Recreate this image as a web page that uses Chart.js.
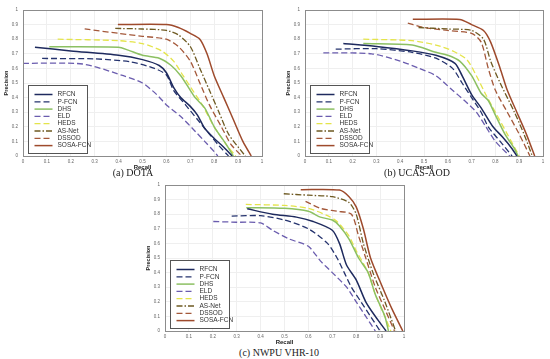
<!DOCTYPE html>
<html>
<head>
<meta charset="utf-8">
<script src="https://cdn.jsdelivr.net/npm/chart.js@4.4.1/dist/chart.umd.min.js"></script>
<style>
  body { margin: 0; background: #fff; width: 550px; height: 359px; position: relative; overflow: hidden; }
  canvas { position: absolute; }
  .cap { position: absolute; font-family: "Liberation Serif", serif; font-size: 10px; color: #222; white-space: nowrap; transform: translateX(-50%); }
</style>
</head>
<body>
<canvas id="chartA" width="268" height="172" style="left:0;top:0"></canvas>
<canvas id="chartB" width="267" height="172" style="left:282px;top:0"></canvas>
<canvas id="chartC" width="268" height="172" style="left:142px;top:175px"></canvas>
<div class="cap" style="left:133px;top:167px">(a) DOTA</div>
<div class="cap" style="left:417px;top:167px">(b) UCAS-AOD</div>
<div class="cap" style="left:279px;top:347px">(c) NWPU VHR-10</div>
<script>
const methods = ["RFCN", "P-FCN", "DHS", "ELD", "HEDS", "AS-Net", "DSSOD", "SOSA-FCN"];
const tickLabels = ["0", "0.1", "0.2", "0.3", "0.4", "0.5", "0.6", "0.7", "0.8", "0.9", "1"];

// (a) DOTA  [recall, precision]
const dotaRFCN = [[0.05,0.745],[0.2,0.72],[0.4,0.69],[0.5,0.66],[0.57,0.62],[0.6,0.57],[0.63,0.47],[0.66,0.40],[0.7,0.34],[0.73,0.28],[0.76,0.19],[0.8,0.12],[0.84,0.06],[0.875,0]];
const dotaPFCN = [[0.08,0.668],[0.3,0.665],[0.45,0.645],[0.55,0.60],[0.6,0.555],[0.63,0.45],[0.68,0.35],[0.73,0.25],[0.78,0.15],[0.82,0.07],[0.86,0]];
const dotaDHS = [[0.11,0.748],[0.4,0.745],[0.44,0.725],[0.5,0.69],[0.57,0.67],[0.62,0.62],[0.66,0.55],[0.7,0.45],[0.72,0.40],[0.76,0.33],[0.8,0.2],[0.85,0.08],[0.88,0]];
const dotaELD = [[0.0,0.635],[0.25,0.63],[0.42,0.55],[0.5,0.50],[0.56,0.42],[0.6,0.35],[0.66,0.27],[0.72,0.17],[0.76,0.10],[0.8,0.03],[0.815,0]];
const dotaHEDS = [[0.145,0.80],[0.4,0.79],[0.5,0.77],[0.58,0.72],[0.63,0.65],[0.67,0.55],[0.71,0.45],[0.75,0.35],[0.8,0.2],[0.85,0.08],[0.89,0]];
const dotaASNet = [[0.386,0.874],[0.5,0.87],[0.6,0.86],[0.65,0.83],[0.7,0.75],[0.74,0.60],[0.78,0.45],[0.82,0.30],[0.86,0.15],[0.93,0]];
const dotaDSSOD = [[0.258,0.87],[0.4,0.84],[0.5,0.82],[0.6,0.80],[0.65,0.75],[0.7,0.65],[0.74,0.50],[0.78,0.35],[0.83,0.20],[0.87,0.08],[0.915,0]];
const dotaSOSA = [[0.397,0.90],[0.6,0.90],[0.65,0.88],[0.7,0.84],[0.74,0.80],[0.77,0.70],[0.8,0.55],[0.84,0.40],[0.88,0.25],[0.92,0.10],[0.955,0]];

// (b) UCAS-AOD
const ucasRFCN = [[0.161,0.771],[0.3,0.75],[0.45,0.72],[0.55,0.69],[0.63,0.635],[0.66,0.55],[0.7,0.42],[0.74,0.33],[0.79,0.20],[0.83,0.13],[0.87,0.05],[0.89,0]];
const ucasPFCN = [[0.129,0.732],[0.3,0.735],[0.45,0.71],[0.55,0.67],[0.62,0.60],[0.66,0.50],[0.7,0.40],[0.74,0.30],[0.77,0.20],[0.82,0.10],[0.87,0]];
const ucasDHS = [[0.245,0.77],[0.45,0.76],[0.55,0.71],[0.6,0.69],[0.65,0.65],[0.7,0.55],[0.74,0.43],[0.77,0.38],[0.8,0.28],[0.84,0.15],[0.88,0.05],[0.895,0]];
const ucasELD = [[0.077,0.707],[0.28,0.70],[0.4,0.65],[0.48,0.60],[0.55,0.55],[0.62,0.45],[0.67,0.38],[0.72,0.30],[0.76,0.20],[0.8,0.10],[0.86,0]];
const ucasHEDS = [[0.245,0.80],[0.45,0.79],[0.55,0.76],[0.62,0.72],[0.68,0.66],[0.72,0.55],[0.76,0.42],[0.8,0.30],[0.85,0.15],[0.9,0]];
const ucasASNet = [[0.477,0.88],[0.6,0.87],[0.7,0.86],[0.75,0.80],[0.78,0.65],[0.82,0.50],[0.88,0.30],[0.92,0.15],[0.955,0]];
const ucasDSSOD = [[0.432,0.91],[0.5,0.88],[0.6,0.86],[0.7,0.84],[0.74,0.78],[0.77,0.60],[0.8,0.45],[0.85,0.30],[0.9,0.15],[0.945,0]];
const ucasSOSA = [[0.453,0.936],[0.65,0.935],[0.7,0.90],[0.75,0.86],[0.78,0.78],[0.82,0.60],[0.85,0.45],[0.89,0.30],[0.93,0.15],[0.965,0]];

// (c) NWPU VHR-10
const nwpuRFCN = [[0.344,0.837],[0.45,0.80],[0.55,0.78],[0.62,0.75],[0.7,0.69],[0.73,0.60],[0.76,0.45],[0.8,0.35],[0.84,0.20],[0.88,0.10],[0.925,0]];
const nwpuPFCN = [[0.279,0.787],[0.4,0.79],[0.5,0.76],[0.6,0.70],[0.68,0.60],[0.72,0.50],[0.75,0.40],[0.78,0.30],[0.82,0.20],[0.86,0.10],[0.9,0]];
const nwpuDHS = [[0.34,0.845],[0.5,0.84],[0.6,0.82],[0.65,0.78],[0.7,0.76],[0.73,0.72],[0.77,0.63],[0.81,0.50],[0.85,0.40],[0.88,0.25],[0.92,0.10],[0.935,0]];
const nwpuELD = [[0.202,0.75],[0.3,0.745],[0.4,0.74],[0.45,0.69],[0.52,0.63],[0.6,0.58],[0.65,0.48],[0.7,0.40],[0.76,0.30],[0.8,0.20],[0.84,0.10],[0.88,0]];
const nwpuHEDS = [[0.338,0.867],[0.5,0.86],[0.6,0.84],[0.68,0.79],[0.72,0.75],[0.77,0.65],[0.8,0.55],[0.85,0.40],[0.88,0.25],[0.92,0.10],[0.945,0]];
const nwpuASNet = [[0.497,0.94],[0.6,0.93],[0.7,0.92],[0.77,0.88],[0.8,0.80],[0.83,0.60],[0.87,0.40],[0.92,0.20],[0.965,0]];
const nwpuDSSOD = [[0.588,0.888],[0.65,0.84],[0.72,0.82],[0.78,0.80],[0.81,0.65],[0.84,0.50],[0.88,0.30],[0.92,0.15],[0.96,0]];
const nwpuSOSA = [[0.568,0.968],[0.73,0.965],[0.77,0.92],[0.8,0.85],[0.83,0.70],[0.86,0.50],[0.91,0.30],[0.95,0.15],[0.995,0]];

const colors = ["#1e2a5e", "#25336e", "#8cc062", "#6a5cae", "#e4e44a", "#6e5a22", "#a4583a", "#9e4a2c"];
const dashes = [[], [6, 3], [], [6, 3], [6, 3], [6, 2, 1.5, 2], [6, 3], []];

// frame around the plot area + legend box inside it
const framePlugin = {
  id: "frame",
  afterDraw(chart) {
    const { ctx, chartArea: a } = chart;
    ctx.save();
    ctx.strokeStyle = "#8c8c8c";
    ctx.lineWidth = 1;
    ctx.strokeRect(a.left + 0.5, a.top + 0.5, a.width, a.height);

    const bx = a.left + 5.5, by = a.top + 75.5, bw = 59, bh = 68;
    ctx.fillStyle = "#fff";
    ctx.fillRect(bx, by, bw, bh);
    ctx.strokeStyle = "#555";
    ctx.strokeRect(bx, by, bw, bh);
    ctx.font = "6.5px 'Liberation Sans', Arial, sans-serif";
    ctx.textBaseline = "middle";
    chart.data.datasets.forEach((ds, i) => {
      const y = by + 9 + i * 7.3;
      ctx.beginPath();
      ctx.setLineDash(ds.borderDash);
      ctx.strokeStyle = ds.borderColor;
      ctx.lineWidth = ds.borderWidth;
      ctx.moveTo(bx + 6, y);
      ctx.lineTo(bx + 24, y);
      ctx.stroke();
      ctx.setLineDash([]);
      ctx.fillStyle = "#333";
      ctx.fillText(ds.label, bx + 29, y);
    });
    ctx.restore();
  }
};

function makeChart(id, seriesList) {
  new Chart(document.getElementById(id), {
    type: "scatter",
    data: {
      datasets: seriesList.map((pts, i) => ({
        label: methods[i],
        data: pts.map(p => ({ x: p[0], y: p[1] })),
        showLine: true,
        borderColor: colors[i],
        borderDash: dashes[i],
        borderWidth: dashes[i].length ? 1.3 : 1.5,
        pointRadius: 0,
        tension: 0.25,
        fill: false
      }))
    },
    options: {
      responsive: false,
      animation: false,
      layout: { padding: { top: 10, right: 6, left: 0, bottom: 0 } },
      plugins: { legend: { display: false }, tooltip: { enabled: false } },
      scales: {
        x: {
          type: "linear", min: 0, max: 1,
          grid: { color: "#efefef", drawTicks: false }, border: { display: false },
          ticks: { stepSize: 0.1, padding: 3, color: "#666", font: { size: 4.5 }, maxRotation: 0,
                   callback: v => tickLabels[Math.round(v * 10)] },
          title: { display: true, text: "Recall", color: "#222", padding: { top: 0, bottom: 1.5 },
                   font: { size: 6, weight: "bold", family: "'Liberation Sans', Arial, sans-serif" } },
          afterFit: s => { s.height = 16; }
        },
        y: {
          type: "linear", min: 0, max: 1,
          grid: { color: "#efefef", drawTicks: false }, border: { display: false },
          ticks: { stepSize: 0.1, padding: 5, color: "#666", font: { size: 4.5 },
                   callback: v => tickLabels[Math.round(v * 10)] },
          title: { display: true, text: "Precision", color: "#222", padding: 3,
                   font: { size: 5.5, weight: "bold", family: "'Liberation Sans', Arial, sans-serif" } },
          afterFit: s => { s.width = 23; }
        }
      }
    },
    plugins: [framePlugin]
  });
}

makeChart("chartA", [dotaRFCN, dotaPFCN, dotaDHS, dotaELD, dotaHEDS, dotaASNet, dotaDSSOD, dotaSOSA]);
makeChart("chartB", [ucasRFCN, ucasPFCN, ucasDHS, ucasELD, ucasHEDS, ucasASNet, ucasDSSOD, ucasSOSA]);
makeChart("chartC", [nwpuRFCN, nwpuPFCN, nwpuDHS, nwpuELD, nwpuHEDS, nwpuASNet, nwpuDSSOD, nwpuSOSA]);
</script>
</body>
</html>
